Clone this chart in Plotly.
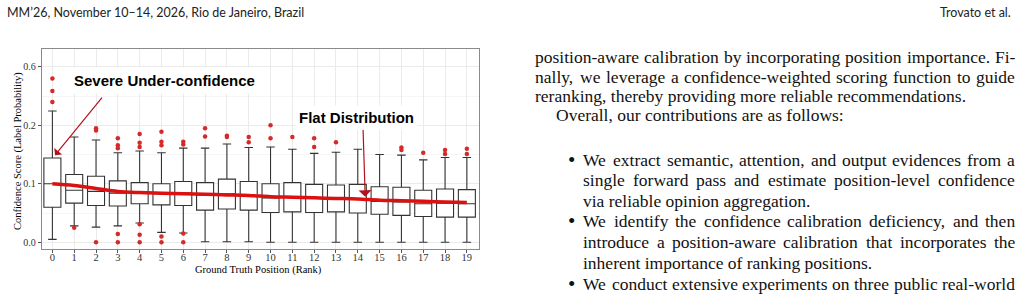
import plotly.graph_objects as go

# ---------------- data ----------------
positions = list(range(20))
q1 = [0.060, 0.067, 0.063, 0.062, 0.066, 0.064, 0.063, 0.055, 0.057, 0.055,
      0.051, 0.052, 0.051, 0.052, 0.050, 0.048, 0.046, 0.044, 0.043, 0.043]
median = [0.100, 0.089, 0.087, 0.084, 0.085, 0.083, 0.084, 0.081, 0.083, 0.080,
          0.076, 0.078, 0.076, 0.076, 0.074, 0.070, 0.069, 0.066, 0.067, 0.066]
q3 = [0.144, 0.116, 0.113, 0.105, 0.102, 0.100, 0.104, 0.102, 0.108, 0.104,
      0.100, 0.102, 0.099, 0.098, 0.099, 0.095, 0.094, 0.089, 0.091, 0.090]
lower_whisker = [0.005, 0.028, 0.026, 0.028, 0.033, 0.017, 0.016, 0.001, 0.001, 0.001,
                 0.000, 0.000, 0.000, 0.000, 0.000, 0.000, 0.000, 0.000, 0.000, 0.000]
upper_whisker = [0.298, 0.180, 0.175, 0.153, 0.156, 0.153, 0.161, 0.161, 0.168, 0.162,
                 0.163, 0.159, 0.152, 0.154, 0.159, 0.150, 0.149, 0.141, 0.145, 0.145]
outlier_pos = [0, 0, 0, 1, 2, 2, 2, 3, 3, 3, 3, 3, 4, 4, 4, 4, 4, 4,
               5, 5, 5, 5, 5, 6, 6, 6, 6, 7, 7, 8, 8, 9, 9, 10, 10, 11,
               12, 12, 13, 16, 16, 17, 18, 18, 19, 19]
outlier_val = [0.520, 0.434, 0.359, 0.025, 0.195, 0.191, 0.000,
               0.178, 0.166, 0.161, 0.014, 0.000,
               0.185, 0.170, 0.163, 0.031, 0.013, 0.000,
               0.189, 0.172, 0.166, 0.010, 0.000,
               0.172, 0.167, 0.015, 0.000,
               0.195, 0.181, 0.182, 0.180, 0.180, 0.171, 0.201, 0.178, 0.180,
               0.178, 0.163, 0.171, 0.162, 0.158, 0.153, 0.158, 0.151, 0.160, 0.151]
trend = [0.100, 0.097, 0.092, 0.087, 0.085, 0.084, 0.083, 0.082, 0.081, 0.080,
         0.078, 0.077, 0.076, 0.075, 0.074, 0.072, 0.071, 0.070, 0.069, 0.068]
x_tick_labels = [str(p) for p in positions]
y_tick_values = [0.0, 0.1, 0.2, 0.6]
y_tick_labels = ["0.0", "0.1", "0.2", "0.6"]

header_left = "MM\u201926, November 10\u201314, 2026, Rio de Janeiro, Brazil"
header_right = "Trovato et al."
body_lines = [
    ("position-aware calibration by incorporating position importance. Fi-", "para", True),
    ("nally, we leverage a confidence-weighted scoring function to guide", "para", True),
    ("reranking, thereby providing more reliable recommendations.", "para", False),
    ("Overall, our contributions are as follows:", "indent", False),
    ("We extract semantic, attention, and output evidences from a", "bullet", True),
    ("single forward pass and estimate position-level confidence", "item", True),
    ("via reliable opinion aggregation.", "item", False),
    ("We identify the confidence calibration deficiency, and then", "bullet", True),
    ("introduce a position-aware calibration that incorporates the", "item", True),
    ("inherent importance of ranking positions.", "item", False),
    ("We conduct extensive experiments on three public real-world", "bullet", True),
]


# piecewise-linear scale used by the original y axis (0-0.2 linear, then 0.2-0.6 compressed)
def to_axis(v):
    return v / 0.1 if v <= 0.2 else 2.0 + (v - 0.2) / 0.4


def tx(v):
    return [to_axis(a) for a in v]


W, H = 1023, 304


def px(x):
    return x / W


def py(y):
    return 1 - y / H


fig = go.Figure()

fig.add_trace(go.Box(
    x=positions, q1=tx(q1), median=tx(median), q3=tx(q3),
    lowerfence=tx(lower_whisker), upperfence=tx(upper_whisker),
    boxpoints=False, fillcolor="white", width=0.78, whiskerwidth=0.5,
    line=dict(color="#333333", width=1.1), showlegend=False, hoverinfo="skip"))

fig.add_trace(go.Scatter(
    x=outlier_pos, y=tx(outlier_val), mode="markers",
    marker=dict(color="#d42a2a", size=4.5), showlegend=False, hoverinfo="skip"))

fig.add_trace(go.Scatter(
    x=positions, y=tx(trend), mode="lines",
    line=dict(color="#dc1010", width=3.5, shape="spline"),
    showlegend=False, hoverinfo="skip"))

serif = "Liberation Serif"
sans = "Liberation Sans"

fig.update_layout(
    width=W, height=H, margin=dict(l=0, r=0, t=0, b=0),
    paper_bgcolor="white", plot_bgcolor="white",
    xaxis=dict(domain=[px(41.7), px(479.3)], range=[-0.49, 19.57],
               tickvals=positions, ticktext=x_tick_labels,
               showgrid=True, gridcolor="#ebebeb", gridwidth=1,
               ticks="outside", ticklen=3, tickcolor="#555", ticklabelstandoff=-5,
               showline=True, mirror=True, linecolor="#8a8a8a", linewidth=1,
               zeroline=False, tickfont=dict(family=serif, size=10.5, color="#333")),
    yaxis=dict(domain=[py(249.3), py(49.3)], range=[-0.12, 3.30],
               tickvals=tx(y_tick_values), ticktext=y_tick_labels,
               showgrid=True, gridcolor="#ebebeb", gridwidth=1,
               minor=dict(tickvals=[0.5, 1.5, 2.5], showgrid=True,
                          gridcolor="#f5f5f5", ticks=""),
               ticks="outside", ticklen=3, tickcolor="#555",
               showline=True, mirror=True, linecolor="#8a8a8a", linewidth=1,
               zeroline=False, tickfont=dict(family=serif, size=10, color="#333")),
)

ann = []
# arrows
ann.append(dict(x=0.12, y=1.49, ax=2.33, ay=2.50, xref="x", yref="y", axref="x", ayref="y",
                text="", showarrow=True, arrowhead=1, arrowsize=1.4, arrowwidth=1.2,
                arrowcolor="#b3121d"))
ann.append(dict(x=14.34, y=0.78, ax=14.24, ay=1.95, xref="x", yref="y", axref="x", ayref="y",
                text="", showarrow=True, arrowhead=1, arrowsize=1.8, arrowwidth=1.2,
                arrowcolor="#b3121d"))
# labels with white boxes
ann.append(dict(x=px(69), y=py(80.7), xref="paper", yref="paper", xanchor="left", yanchor="middle",
                text="<b>Severe Under-confidence</b>", showarrow=False, bgcolor="white", borderpad=4,
                font=dict(family=sans, size=15, color="black")))
ann.append(dict(x=px(295), y=py(117.7), xref="paper", yref="paper", xanchor="left", yanchor="middle",
                text="<b>Flat Distribution</b>", showarrow=False, bgcolor="white", borderpad=3,
                font=dict(family=sans, size=15, color="black")))
# axis titles
ann.append(dict(x=px(258.4), y=py(269.8), xref="paper", yref="paper", xanchor="center", yanchor="middle",
                text="Ground Truth Position (Rank)", showarrow=False,
                font=dict(family=serif, size=10.5, color="black")))
ann.append(dict(x=px(18.3), y=py(150.8), xref="paper", yref="paper", xanchor="center", yanchor="middle",
                text="Confidence Score (Label Probability)", showarrow=False, textangle=-90,
                font=dict(family=serif, size=10.5, color="black")))
# running header
ann.append(dict(x=px(5), y=py(12.7), xref="paper", yref="paper", xanchor="left", yanchor="middle",
                text=header_left, showarrow=False, font=dict(family="Lato", size=12.5, color="#222")))
ann.append(dict(x=px(1013), y=py(12.7), xref="paper", yref="paper", xanchor="right", yanchor="middle",
                text=header_right, showarrow=False, font=dict(family="Lato", size=12.5, color="#222")))

# body text, justified word by word using Times metrics
TW = {" ": 250, ",": 250, "-": 333, ".": 250, ":": 278,
      "a": 444, "b": 500, "c": 444, "d": 500, "e": 444, "f": 333, "g": 500, "h": 500,
      "i": 278, "j": 278, "k": 500, "l": 278, "m": 778, "n": 500, "o": 500, "p": 500,
      "q": 500, "r": 333, "s": 389, "t": 278, "u": 500, "v": 500, "w": 722, "x": 500,
      "y": 500, "z": 444, "F": 556, "O": 722, "W": 944}
FS = 17.5


def tw(s):
    return sum(TW.get(c, 500) for c in s) / 1000 * FS


starts = {"para": 534, "indent": 555, "bullet": 582, "item": 582}
right_edge = 1014
line_y = [57, 76.5, 96, 115.5, 159.5, 180, 200.5, 221.5, 242, 262.5, 283.5]
body_font = dict(family=serif, size=FS, color="#111")
for (txt, kind, just), yc in zip(body_lines, line_y):
    x0 = starts[kind]
    if kind == "bullet":
        ann.append(dict(x=px(571), y=py(yc), xref="paper", yref="paper", xanchor="center",
                        yanchor="middle", text="\u2022", showarrow=False,
                        font=dict(family=serif, size=21, color="#111"), borderpad=0))
    if just:
        words = txt.split(" ")
        gap = (right_edge - x0 - sum(tw(w) for w in words)) / (len(words) - 1)
        x = x0
        for w in words:
            ann.append(dict(x=px(x), y=py(yc), xref="paper", yref="paper", xanchor="left",
                            yanchor="middle", text=w, showarrow=False, font=body_font,
                            borderpad=0))
            x += tw(w) + gap
    else:
        ann.append(dict(x=px(x0), y=py(yc), xref="paper", yref="paper", xanchor="left",
                        yanchor="middle", text=txt, showarrow=False, font=body_font,
                        borderpad=0))

fig.update_layout(annotations=ann)
fig.write_html("out.html")
